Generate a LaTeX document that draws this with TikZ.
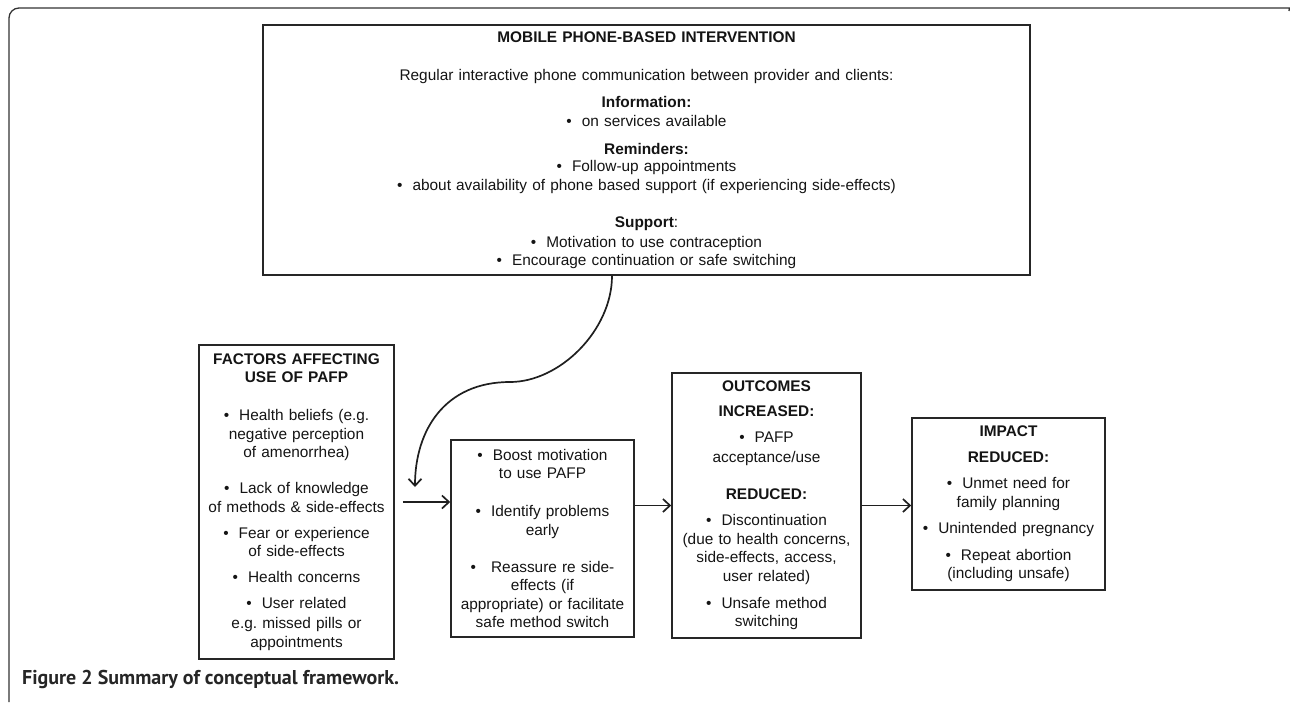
\documentclass[tikz,border=0pt]{standalone}
\usepackage{fontspec}
\setmainfont{Liberation Sans}
\newfontfamily\capfont{PT Sans}
\usetikzlibrary{arrows.meta}
\newcommand{\bul}{\textbullet\hspace{10pt}}
\frenchspacing

\begin{document}
\begin{tikzpicture}[x=1pt,y=-1pt,
        box/.style={draw=black!85, line width=1.6pt, align=center, inner sep=0pt,
                    text=black!92, font=\fontsize{15.4}{18.5}\selectfont},
        arr/.style={line width=1.7pt, black!88, -{Straight Barb[length=7pt,width=13pt]}}]
                    \useasboundingbox (0,0) rectangle (1290,702);
                    \draw[line width=1.3pt, black!80] (9,702) [rounded corners=10pt] -- (9,8) -- (1286,8) [sharp corners] to[out=0,in=100] (1289,11);
                    \node[box, minimum width=767, minimum height=250, text width=760] (mobile) at (646.5,150)
                        {\textbf{MOBILE PHONE-BASED INTERVENTION}\\[20pt]
                         Regular interactive phone communication between provider and clients:\\[8.5pt]
                         \textbf{Information:}\\
                         \bul on services available\\[9.5pt]
                         \textbf{Reminders:}\\[-1.5pt]
                         \bul Follow-up appointments\\[0.5pt]
                         \bul about availability of phone based support (if experiencing side-effects)\\[18.5pt]
                         \textbf{Support}:\\[1.5pt]
                         \bul Motivation to use contraception\\
                         \bul Encourage continuation or safe switching};
                    \node[box, minimum width=195, minimum height=314, text width=192] (factors) at (296.5,502)
                        {\textbf{FACTORS AFFECTING}\\[-0.5pt]
                         \textbf{USE OF PAFP}\\[19.5pt]
                         \bul Health beliefs (e.g.\\
                         negative perception\\
                         of amenorrhea)\\[17.5pt]
                         \bul Lack of knowledge\\
                         of methods \& side-effects\\[7.5pt]
                         \bul Fear or experience\\
                         of side-effects\\[7.5pt]
                         \bul Health concerns\\[7.5pt]
                         \bul User related\\[1.5pt]
                         e.g.\ missed pills or\\
                         appointments};
                    \node[box, minimum width=183, minimum height=197, text width=180] (boost) at (542.5,538.5)
                        {\bul Boost motivation\\
                         to use PAFP\\[19.5pt]
                         \bul Identify problems\\
                         early\\[18.5pt]
                         \textbullet\hspace{15pt}Reassure re side-\\
                         effects (if\\
                         appropriate) or facilitate\\
                         safe method switch};
                    \node[box, minimum width=189, minimum height=265, text width=186] (outcomes) at (766.5,505.5)
                        {\textbf{OUTCOMES}\\[6.5pt]
                         \textbf{INCREASED:}\\[7.5pt]
                         \bul PAFP\\[1.5pt]
                         acceptance/use\\[18.5pt]
                         \textbf{REDUCED:}\\[7.5pt]
                         \bul Discontinuation\\
                         (due to health concerns,\\
                         side-effects, access,\\
                         user related)\\[8.5pt]
                         \bul Unsafe method\\
                         switching};
                    \node[box, minimum width=193, minimum height=172, text width=190] (impact) at (1008.5,504)
                        {\textbf{IMPACT}\\[7.5pt]
                         \textbf{REDUCED:}\\[7.5pt]
                         \bul Unmet need for\\
                         family planning\\[7.5pt]
                         \bul Unintended pregnancy\\[8.5pt]
                         \bul Repeat abortion\\
                         (including unsafe)};
                    \coordinate (curveend) at (415,487);
                    \draw[arr] ([xshift=-34.5pt]mobile.south) .. controls (612,330) and (560,382) .. (510,382)
                        .. controls (445,382) and (415,430) .. (curveend);
                    \draw[arr, shorten <=8pt] (factors.east) -- (factors.east -| boost.west);
                    \draw[arr] (outcomes.west -| boost.east) -- (outcomes.west);
                    \draw[arr] (outcomes.east) -- (outcomes.east -| impact.west);
                    \node[anchor=base west, inner sep=0pt, text=black!85] (caption) at (22,684)
                        {\capfont\fontsize{20}{24}\selectfont\bfseries Figure 2 Summary of conceptual framework.};
                \end{tikzpicture}
\end{document}
